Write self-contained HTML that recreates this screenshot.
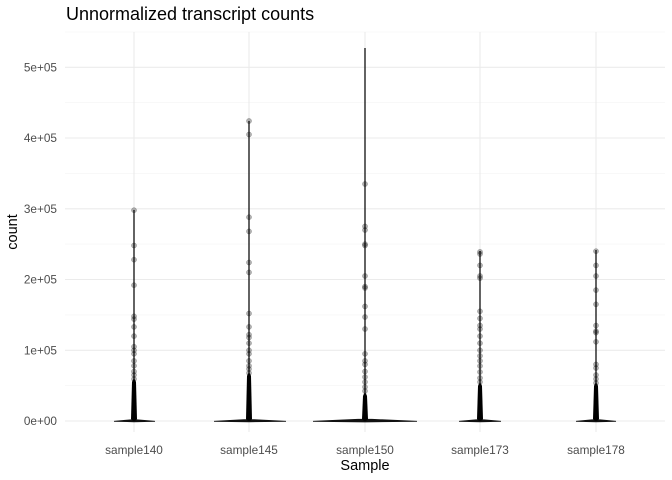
<!DOCTYPE html>
<html><head><meta charset="utf-8"><style>body{margin:0;background:#fff}svg{display:block}</style></head><body>
<svg width="672" height="480" xmlns="http://www.w3.org/2000/svg" font-family="Liberation Sans, sans-serif">
<rect width="672" height="480" fill="#fff"/>
<g stroke="#f4f4f4" stroke-width="0.6">
<line x1="65" x2="665" y1="385.6" y2="385.6"/><line x1="65" x2="665" y1="314.9" y2="314.9"/><line x1="65" x2="665" y1="244.1" y2="244.1"/><line x1="65" x2="665" y1="173.4" y2="173.4"/><line x1="65" x2="665" y1="102.6" y2="102.6"/><line x1="65" x2="665" y1="32" y2="32"/>
</g>
<g stroke="#ebebeb" stroke-width="1.1">
<line x1="65" x2="665" y1="421" y2="421"/><line x1="65" x2="665" y1="350.3" y2="350.3"/><line x1="65" x2="665" y1="279.5" y2="279.5"/><line x1="65" x2="665" y1="208.8" y2="208.8"/><line x1="65" x2="665" y1="138" y2="138"/><line x1="65" x2="665" y1="67.3" y2="67.3"/>
<line x1="134" x2="134" y1="32" y2="432"/><line x1="249" x2="249" y1="32" y2="432"/><line x1="365" x2="365" y1="32" y2="432"/><line x1="480" x2="480" y1="32" y2="432"/><line x1="596" x2="596" y1="32" y2="432"/>
</g>
<g stroke="#111" stroke-width="1.3">
<line x1="134" x2="134" y1="210" y2="421"/>
<line x1="249" x2="249" y1="121" y2="421"/>
<line x1="365" x2="365" y1="48" y2="421"/>
<line x1="480" x2="480" y1="251" y2="421"/>
<line x1="596" x2="596" y1="250" y2="421"/>
</g>
<g fill="#111" stroke="#111" stroke-width="0.8">
<polygon points="114,421.3 131,419.8 137,419.8 155,421.3 134,421.8"/>
<polygon points="214,421.3 244,419.6 254,419.6 286,421.3 249,421.8"/>
<polygon points="313,421.3 358,419.3 372,419.3 417,421.3 365,422"/>
<polygon points="459,421.3 476,419.8 484,419.8 501,421.3 480,421.8"/>
<polygon points="576,421.3 592,419.8 600,419.8 616,421.3 596,421.8"/>
</g>
<g fill="#000" stroke="none">
<path d="M132,382 Q134,376 136,382 L137,419 Q134,423 131,419 Z"/>
<path d="M247,376 Q249,370 251,376 L252,419 Q249,423 246,419 Z"/>
<path d="M363,396 Q365,390 367,396 L368,419 Q365,423 362,419 Z"/>
<path d="M478,386 Q480,380 482,386 L483,419 Q480,423 477,419 Z"/>
<path d="M594,386 Q596,380 598,386 L599,419 Q596,423 593,419 Z"/>
</g>
<g fill="#000" fill-opacity="0.3" stroke="#000" stroke-opacity="0.3" stroke-width="0.5">
<circle cx="134" cy="210.2" r="2.6"/><circle cx="134" cy="245.5" r="2.6"/><circle cx="134" cy="259.7" r="2.6"/><circle cx="134" cy="285.2" r="2.6"/><circle cx="134" cy="316.3" r="2.6"/><circle cx="134" cy="319.1" r="2.6"/><circle cx="134" cy="326.9" r="2.6"/><circle cx="134" cy="336.1" r="2.6"/><circle cx="134" cy="346.7" r="2.6"/><circle cx="134" cy="350.3" r="2.6"/><circle cx="134" cy="353.8" r="2.6"/><circle cx="134" cy="360.9" r="2.6"/><circle cx="134" cy="365.8" r="2.6"/><circle cx="134" cy="371.5" r="2.6"/><circle cx="134" cy="375" r="2.6"/><circle cx="134" cy="379" r="2.6"/>
<circle cx="249" cy="121" r="2.6"/><circle cx="249" cy="134.5" r="2.6"/><circle cx="249" cy="217.2" r="2.6"/><circle cx="249" cy="231.4" r="2.6"/><circle cx="249" cy="262.5" r="2.6"/><circle cx="249" cy="272.4" r="2.6"/><circle cx="249" cy="313.5" r="2.6"/><circle cx="249" cy="326.9" r="2.6"/><circle cx="249" cy="334.7" r="2.6"/><circle cx="249" cy="337.5" r="2.6"/><circle cx="249" cy="343.2" r="2.6"/><circle cx="249" cy="350.3" r="2.6"/><circle cx="249" cy="353.8" r="2.6"/><circle cx="249" cy="360.9" r="2.6"/><circle cx="249" cy="365.8" r="2.6"/><circle cx="249" cy="369" r="2.6"/><circle cx="249" cy="373" r="2.6"/>
<circle cx="365" cy="184" r="2.6"/><circle cx="365" cy="226.4" r="2.6"/><circle cx="365" cy="230" r="2.6"/><circle cx="365" cy="244.1" r="2.6"/><circle cx="365" cy="245.5" r="2.6"/><circle cx="365" cy="276" r="2.6"/><circle cx="365" cy="286.6" r="2.6"/><circle cx="365" cy="288" r="2.6"/><circle cx="365" cy="306.4" r="2.6"/><circle cx="365" cy="317" r="2.6"/><circle cx="365" cy="329" r="2.6"/><circle cx="365" cy="353.8" r="2.6"/><circle cx="365" cy="360.9" r="2.6"/><circle cx="365" cy="364.4" r="2.6"/><circle cx="365" cy="371.5" r="2.6"/><circle cx="365" cy="377" r="2.6"/><circle cx="365" cy="382" r="2.6"/><circle cx="365" cy="387" r="2.6"/><circle cx="365" cy="391" r="2.6"/>
<circle cx="480" cy="251.9" r="2.6"/><circle cx="480" cy="254" r="2.6"/><circle cx="480" cy="265.4" r="2.6"/><circle cx="480" cy="276" r="2.6"/><circle cx="480" cy="278.1" r="2.6"/><circle cx="480" cy="311.3" r="2.6"/><circle cx="480" cy="318.4" r="2.6"/><circle cx="480" cy="325.5" r="2.6"/><circle cx="480" cy="329" r="2.6"/><circle cx="480" cy="336.1" r="2.6"/><circle cx="480" cy="343.2" r="2.6"/><circle cx="480" cy="350.3" r="2.6"/><circle cx="480" cy="355.9" r="2.6"/><circle cx="480" cy="360.9" r="2.6"/><circle cx="480" cy="366" r="2.6"/><circle cx="480" cy="372" r="2.6"/><circle cx="480" cy="378" r="2.6"/><circle cx="480" cy="382" r="2.6"/>
<circle cx="596" cy="251.2" r="2.6"/><circle cx="596" cy="265.4" r="2.6"/><circle cx="596" cy="276" r="2.6"/><circle cx="596" cy="290.1" r="2.6"/><circle cx="596" cy="304.3" r="2.6"/><circle cx="596" cy="325.5" r="2.6"/><circle cx="596" cy="331.1" r="2.6"/><circle cx="596" cy="332.6" r="2.6"/><circle cx="596" cy="341.8" r="2.6"/><circle cx="596" cy="364.4" r="2.6"/><circle cx="596" cy="368" r="2.6"/><circle cx="596" cy="375" r="2.6"/><circle cx="596" cy="379" r="2.6"/><circle cx="596" cy="383" r="2.6"/>
</g>
<g font-size="11.8" fill="#4d4d4d" text-anchor="end">
<text x="57" y="425">0e+00</text><text x="57" y="354.3">1e+05</text><text x="57" y="283.5">2e+05</text><text x="57" y="212.8">3e+05</text><text x="57" y="142">4e+05</text><text x="57" y="71.3">5e+05</text>
</g>
<g font-size="11.8" fill="#4d4d4d" text-anchor="middle">
<text x="134" y="454">sample140</text><text x="249" y="454">sample145</text><text x="365" y="454">sample150</text><text x="480" y="454">sample173</text><text x="596" y="454">sample178</text>
</g>
<text x="365" y="470" font-size="14.5" text-anchor="middle" fill="#000">Sample</text>
<text transform="translate(17,232) rotate(-90)" font-size="14.5" text-anchor="middle" fill="#000">count</text>
<text x="66" y="20" font-size="18" fill="#000">Unnormalized transcript counts</text>
</svg>
</body></html>
